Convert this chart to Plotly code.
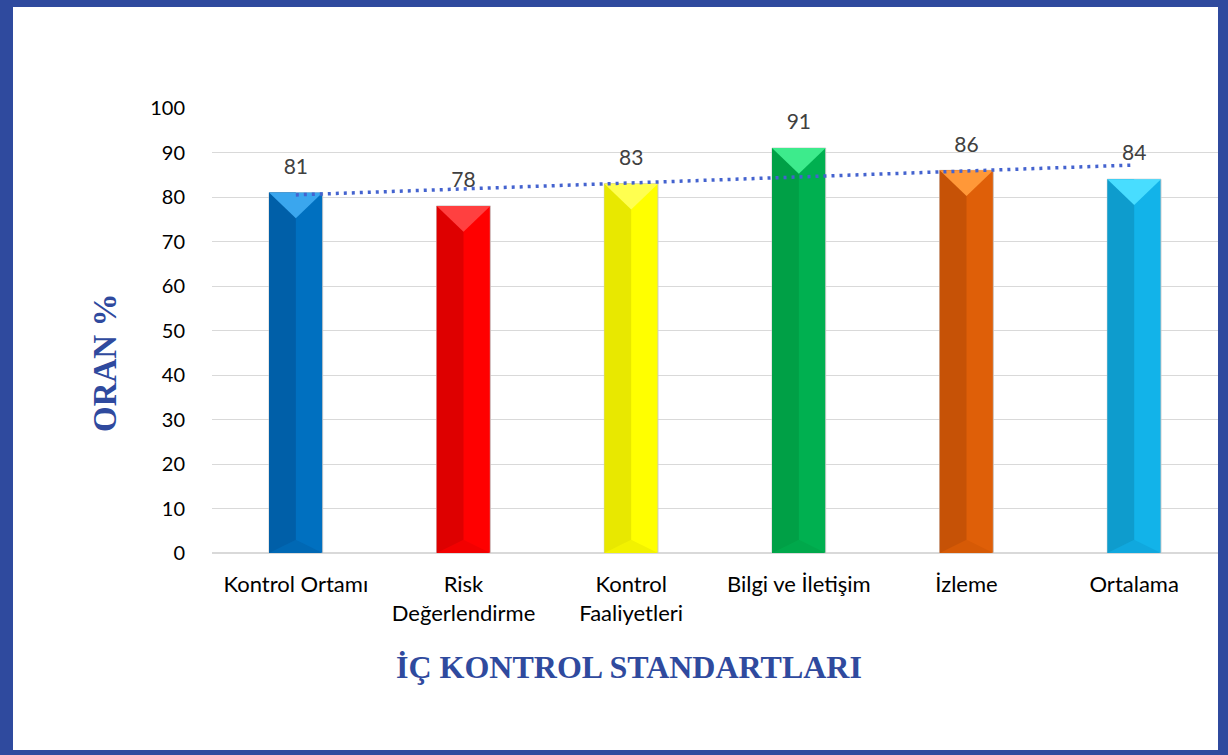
import numpy as np
import plotly.graph_objects as go

# ---- data ----
categories = ["Kontrol Ortamı", "Risk<br>Değerlendirme", "Kontrol<br>Faaliyetleri",
              "Bilgi ve İletişim", "İzleme", "Ortalama"]
values = [81, 78, 83, 91, 86, 84]
y_ticks = [0, 10, 20, 30, 40, 50, 60, 70, 80, 90, 100]
x_title = "İÇ KONTROL STANDARTLARI"
y_title = "ORAN %"

# ---- styles ----
main_colors = ["#0070C0", "#FF0000", "#FFFF00", "#00B050", "#DF5F08", "#12B3E9"]
left_colors = ["#005FA8", "#DE0000", "#E8E800", "#00A046", "#C65206", "#0E9CCD"]
top_colors = ["#3AA6EE", "#FF4040", "#FFFF50", "#3DEB8C", "#FF9838", "#48DDFF"]
bot_colors = ["#0068B4", "#F20000", "#F2F200", "#00A84B", "#D65A06", "#10A8DE"]
BLUE = "#2F4A9E"
W, H = 1228, 755
L, R, T, B = 212, 1218, 108, 553

x = np.arange(len(values))
bw = 0.32          # bar width in category units
tri = 5.8          # bevel depth in value units
bot_tri = 3.0

fig = go.Figure()

# main bars
fig.add_trace(go.Bar(x=x, y=values, width=bw, marker=dict(color=main_colors,
                     line=dict(color="rgba(200,200,200,0.9)", width=1)),
                     hoverinfo="skip", showlegend=False))
# darker left half
fig.add_trace(go.Bar(x=x, y=values, width=bw / 2, offset=-bw / 2,
                     marker=dict(color=left_colors, line=dict(width=0)),
                     hoverinfo="skip", showlegend=False))

# bevel triangles (top and bottom)
for i, v in enumerate(values):
    fig.add_trace(go.Scatter(
        x=[i - bw / 2, i + bw / 2, i, i - bw / 2],
        y=[v, v, v - tri, v], mode="lines", fill="toself",
        fillcolor=top_colors[i], line=dict(width=0), hoverinfo="skip", showlegend=False))
    fig.add_trace(go.Scatter(
        x=[i - bw / 2, i + bw / 2, i, i - bw / 2],
        y=[0, 0, bot_tri, 0], mode="lines", fill="toself",
        fillcolor=bot_colors[i], line=dict(width=0), hoverinfo="skip", showlegend=False))

# linear trendline
slope, intercept = np.polyfit(x, values, 1)
fig.add_trace(go.Scatter(x=[x[0], x[-1]], y=[intercept + slope * x[0], intercept + slope * x[-1]],
                         mode="lines", line=dict(color="#4463CF", width=3.5, dash="3px,5px"),
                         hoverinfo="skip", showlegend=False))

# data labels
fig.add_trace(go.Scatter(x=x, y=[v + 5.4 for v in values], mode="text",
                         text=[str(v) for v in values], textposition="middle center",
                         textfont=dict(family="Lato", size=21, color="#404040"),
                         hoverinfo="skip", showlegend=False))


def px_x(p):
    return (p - L) / (R - L)


def px_y(p):
    return (B - p) / (B - T)


# frame around the figure
shapes = []
for (x0, y0, x1, y1) in [(0, 0, 13, H), (0, 0, W, 7), (1218, 0, W, H), (0, 750, W, H)]:
    shapes.append(dict(type="rect", xref="paper", yref="paper", layer="above",
                       x0=px_x(x0), x1=px_x(x1), y0=px_y(y1), y1=px_y(y0),
                       fillcolor=BLUE, line=dict(width=0)))

annotations = [
    dict(text="<b>%s</b>" % x_title, xref="paper", yref="paper", x=px_x(629), y=px_y(667),
         xanchor="center", yanchor="middle", showarrow=False,
         font=dict(family="Liberation Serif", size=32, color=BLUE)),
    dict(text="<b>%s</b>" % y_title, xref="paper", yref="paper", x=px_x(105), y=px_y(363),
         xanchor="center", yanchor="middle", showarrow=False, textangle=-90,
         font=dict(family="Liberation Serif", size=33, color=BLUE)),
]

fig.update_layout(
    width=W, height=H,
    margin=dict(l=L, r=W - R, t=T, b=H - B),
    paper_bgcolor="white", plot_bgcolor="white",
    barmode="overlay",
    shapes=shapes,
    annotations=annotations,
    font=dict(family="Lato", size=20, color="#000000"),
    xaxis=dict(range=[-0.5, 5.5], tickvals=list(x), ticktext=categories,
               showgrid=False, zeroline=False, showline=False,
               tickfont=dict(family="Lato", size=22, color="#000000"),
               ticks="outside", ticklen=12, tickcolor="rgba(0,0,0,0)"),
    yaxis=dict(range=[0, 100], tickvals=y_ticks, showgrid=True, gridcolor="#D9D9D9",
               gridwidth=1.3, zeroline=True, zerolinecolor="#D9D9D9", zerolinewidth=1.5,
               showline=False, ticks="outside", ticklen=22, tickcolor="rgba(0,0,0,0)",
               tickfont=dict(family="Lato", size=20, color="#000000")),
)

fig.write_html("out.html", config={"displayModeBar": False},
               post_script="document.body.style.margin='0';")
